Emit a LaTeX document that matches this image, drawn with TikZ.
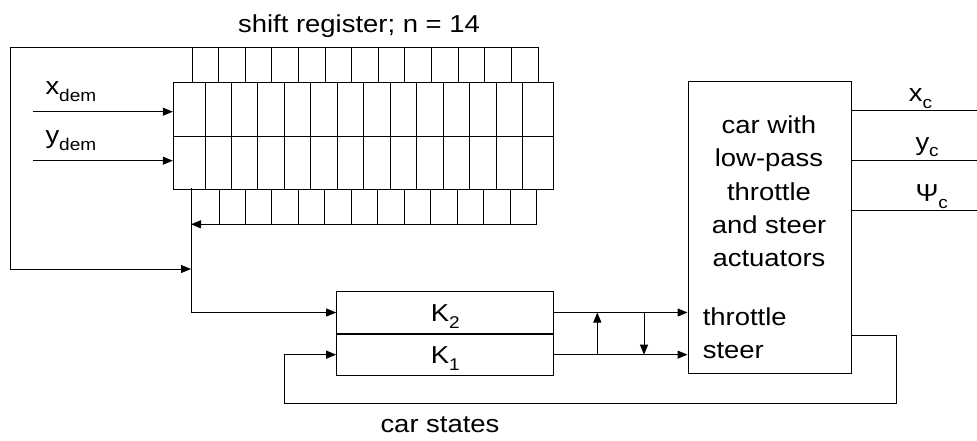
\documentclass[tikz,border=0pt]{standalone}
\usepackage{fontspec}
\setmainfont{Liberation Sans}[FakeStretch=1.12]
\usetikzlibrary{arrows.meta}
\newcommand{\mysub}[1]{\raisebox{-6.5pt}{\fontsize{17}{17}\selectfont #1}}
\begin{document}
\begin{tikzpicture}[x=1pt,y=-1pt,line width=1pt,
  lbl/.style={inner sep=0pt,font=\fontsize{24.5}{33.3}\selectfont},
  arr/.style={-{Triangle[length=10pt,width=8pt]}},
  box/.style={draw,inner sep=0pt}]
\useasboundingbox (0,0) rectangle (977,441);
% title
\node[lbl,anchor=base] (title) at (359,32.3) {shift register; n = 14};
% shift register main block
\node[box,minimum width=380pt,minimum height=106.6pt] (reg) at (363.3,136) {};
\draw (173.3,136.7) -- (553.3,136.7);
\foreach \i in {0,...,12} \draw ({205+\i*26.475},82.7) -- ({205+\i*26.475},189.3);
% top row + frame
\coordinate (ftop) at (10,47.3);
\draw (ftop) -- (538,47.3);
\foreach \i in {0,...,13} \draw ({192+\i*26.615},47.3) -- ({192+\i*26.615},82.7);
% bottom row
\foreach \i in {0,...,12} \draw ({219+\i*26.475},189.3) -- ({219+\i*26.475},224.3);
\coordinate (fbstart) at (537,224.3);
\coordinate (junc) at (191,224.3);
\draw[arr] (fbstart) -- (junc);
% inputs
\coordinate (xin) at (33,111.7);
\coordinate (yin) at (33,160.7);
\draw[arr] (xin) -- (xin -| reg.west);
\draw[arr] (yin) -- (yin -| reg.west);
\node[lbl,anchor=base west] (xdem) at (45,95) {x\mysub{dem}};
\node[lbl,anchor=base west] (ydem) at (45,144) {y\mysub{dem}};
% K boxes
\node[box,lbl,minimum width=217.3pt,minimum height=41.6pt,text height=24pt,text depth=5.6pt] (K2) at (445.3,312.5) {K\mysub{2}};
\node[box,lbl,minimum width=217.3pt,minimum height=40.7pt,text height=24pt,text depth=5.6pt,anchor=north] (K1) at (K2.south) {K\mysub{1}};
% left frame and merge
\coordinate (vtop) at (191,188.3);
\coordinate (merge) at (191,269);
\draw[arr] (ftop) |- (merge);
\draw[arr] (vtop) |- (K2.west);
% car box
\node[box,minimum width=163.7pt,minimum height=291.6pt] (car) at (769.85,227.5) {};
\node[lbl,align=center,anchor=base] (cartext) at (769,266.7) {car with\\low-pass\\throttle\\and steer\\actuators};
\node[lbl,anchor=base west] (thr) at (702.3,325.7) {throttle};
\node[lbl,anchor=base west] (st) at (702.3,358.3) {steer};
% K to car
\draw[arr] (K2.east) -- (K2.east -| car.west);
\draw[arr] (K1.east) -- (K1.east -| car.west);
\coordinate (up1) at (597.3,0);
\coordinate (dn1) at (644,0);
\draw[arr] (up1 |- K1.east) -- (up1 |- K2.east);
\draw[arr] (dn1 |- K2.east) -- (dn1 |- K1.east);
% outputs
\coordinate (xc) at (977,111);
\coordinate (yc) at (977,160);
\coordinate (pc) at (977,210);
\draw (xc -| car.east) -- (xc);
\draw (yc -| car.east) -- (yc);
\draw (pc -| car.east) -- (pc);
\node[lbl,anchor=base west] (xcl) at (908.3,101.7) {x\mysub{c}};
\node[lbl,anchor=base west] (ycl) at (915,150) {y\mysub{c}};
\node[lbl,anchor=base west] (pcl) at (915,201.7) {Ψ\mysub{c}};
% feedback
\coordinate (fb1) at (896.7,335);
\coordinate (fb2) at (284,403.3);
\draw[arr] (fb1 -| car.east) -- (fb1) |- (fb2) |- (K1.west);
\node[lbl,anchor=base] (cs) at (440,432) {car states};
\end{tikzpicture}
\end{document}
